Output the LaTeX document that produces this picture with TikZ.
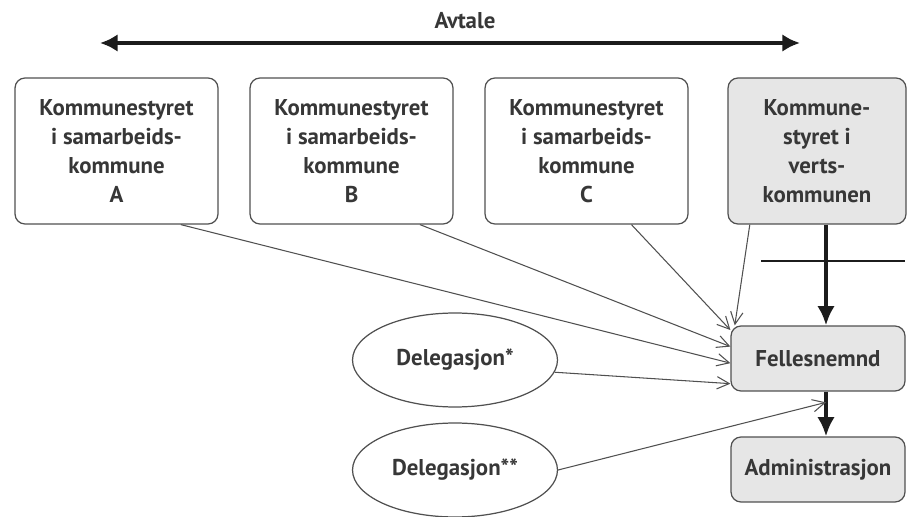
\documentclass[tikz,border=0pt]{standalone}
\usepackage{fontspec}
\setmainfont{PT Sans}
\usetikzlibrary{calc,positioning,shapes.geometric,arrows.meta}
\definecolor{boxline}{RGB}{80,80,80}
\definecolor{boxtext}{RGB}{55,55,55}
\definecolor{hostfill}{RGB}{230,230,230}
\definecolor{arrowdark}{RGB}{28,28,28}

\begin{document}
\begin{tikzpicture}[x=0.02cm, y=-0.02cm,
  kbox/.style={draw=boxline, line width=0.7pt, rounded corners=0.2cm, fill=white,
    text=boxtext, font=\bfseries\fontsize{13}{16.6}\selectfont, align=center,
    inner sep=0pt, minimum width=4.06cm, minimum height=2.92cm},
  hostbox/.style={kbox, fill=hostfill, minimum width=3.56cm},
  smallbox/.style={kbox, fill=hostfill, minimum width=3.48cm, minimum height=1.30cm},
  deleg/.style={ellipse, draw=boxline, line width=0.7pt, text=boxtext,
    font=\bfseries\fontsize{13}{16.6}\selectfont, inner sep=0pt,
    minimum width=4.1cm, minimum height=1.88cm},
  thinarrow/.style={draw=boxline, line width=0.6pt,
    -{Straight Barb[length=7pt, width=7pt]}},
  bigarrow/.style={draw=arrowdark, line width=2.8pt,
    -{Latex[length=11pt, width=10pt]}}]
% Pixel grid of the 910x517 original, y pointing down.
\useasboundingbox (0,0) rectangle (910,517);
% Agreement between the municipalities
\node[text=boxtext, font=\bfseries\fontsize{13}{14}\selectfont] (avtale) at (465,21) {Avtale};
\coordinate (avtL) at (100,43);
\coordinate (avtR) at (800,43);
\draw[draw=arrowdark, line width=2.4pt, {Latex[length=10pt, width=10pt]}-{Latex[length=10pt, width=10pt]}] (avtL) -- (avtR);
% Municipal councils
\node[kbox] (komA) at (116.5,151) {Kommunestyret\\i samarbeids-\\kommune\\A};
\node[kbox] (komB) at (351.5,151) {Kommunestyret\\i samarbeids-\\kommune\\B};
\node[kbox] (komC) at (586.5,151) {Kommunestyret\\i samarbeids-\\kommune\\C};
\node[hostbox] (vert) at (817,151) {Kommune-\\styret i\\verts-\\kommunen};
% Joint board and administration
\node[smallbox] (felles) at (818,358.5) {Fellesnemnd};
\node[smallbox] (admin) at (818,469.5) {Administrasjon};
% Delegations
\node[deleg] (deleg1) at (455,360) {Delegasjon*};
\node[deleg] (deleg2) at (455,470) {Delegasjon**};
% Thin arrows into the joint board
\draw[thinarrow] ($(komA.south)!0.63!(komA.south east)$) -- ($(felles.north west)!0.57!(felles.south west)$);
\draw[thinarrow] ($(komB.south)!0.67!(komB.south east)$) -- ($(felles.north west)!0.32!(felles.south west)$);
\draw[thinarrow] ($(komC.south)!0.44!(komC.south east)$) -- ($(felles.north west)!0.07!(felles.south west)$);
\draw[thinarrow] ($(vert.south west)!0.25!(vert.south)$) -- ($(felles.north west)!0.05!(felles.north)$);
\draw[thinarrow] (deleg1.-7) -- ($(felles.north west)!0.88!(felles.south west)$);
% Thick chain host -> board -> administration
\draw[bigarrow] ($(vert.south)+(9,0)$) -- ($(felles.north)+(8,0)$);
\draw[bigarrow] ($(felles.south)+(8,0)$) -- ($(admin.north)+(8,0)$);
\coordinate (delegEnd) at ($(felles.south)!0.24!(admin.north)+(8,0)$);
\draw[thinarrow] (deleg2.east) -- (delegEnd);
% Cut line across the host chain
\coordinate (cutL) at (761,261);
\coordinate (cutR) at (905,261);
\draw[draw=arrowdark, line width=0.6pt] (cutL) -- (cutR);
\end{tikzpicture}
\end{document}
